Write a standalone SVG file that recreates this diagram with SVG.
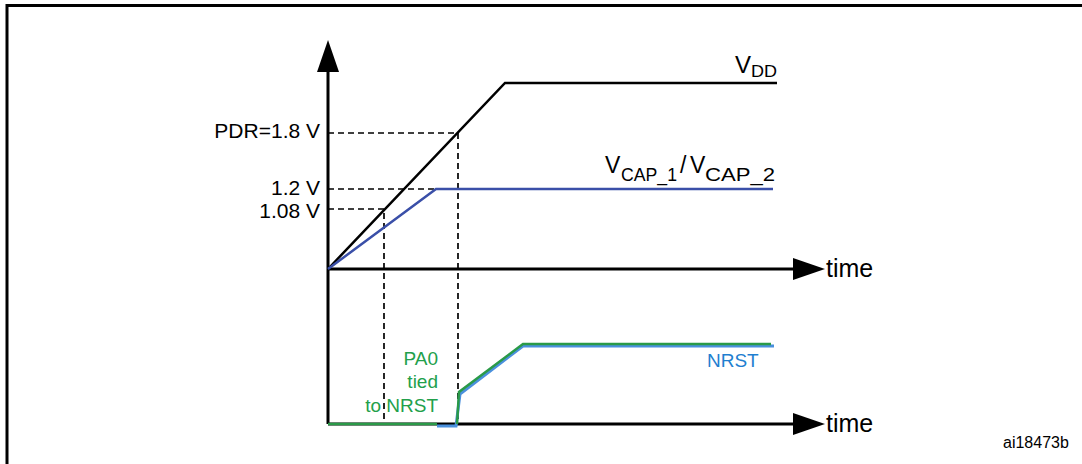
<svg xmlns="http://www.w3.org/2000/svg" width="1082" height="464" viewBox="0 0 1082 464">
<style>
text{font-family:"Liberation Sans",Arial,sans-serif;fill:#000}
.axis{stroke:#000;stroke-width:3;fill:none}
.dash{stroke:#000;stroke-width:1.7;stroke-dasharray:6,4;fill:none}
.lbl{font-size:21px}
.grn{fill:#22a04b}
.blu{fill:#1f7fd0}
</style>
<defs>
<marker id="ah" viewBox="0 0 32 22" refX="0" refY="11" markerWidth="32" markerHeight="22" markerUnits="userSpaceOnUse" orient="auto">
<path d="M0,0 L32,11 L0,22 Z" fill="#000"/>
</marker>
</defs>
<rect width="1082" height="464" fill="#fff"/>
<g id="frame">
<path d="M7,466 V5.5 H1084" fill="none" stroke="#000" stroke-width="3"/>
</g>
<g id="connectors">
<line class="axis" x1="328" y1="424" x2="328" y2="72" marker-end="url(#ah)"/>
<line class="axis" x1="328" y1="269" x2="793" y2="269" marker-end="url(#ah)"/>
<line class="axis" x1="328" y1="424" x2="793" y2="424" marker-end="url(#ah)"/>
<path class="dash" d="M328,133 H458 V424"/>
<path class="dash" d="M328,189 H436"/>
<path class="dash" d="M328,209 H384 V424"/>
</g>
<g id="vdd">
<path d="M328,269 L505,83 H777" fill="none" stroke="#000" stroke-width="2.5"/>
<text x="735" y="73" font-size="24">V<tspan x="751" y="77" font-size="17" textLength="26" lengthAdjust="spacingAndGlyphs">DD</tspan></text>
</g>
<g id="vcap">
<path d="M328,269 L436,189 H773" fill="none" stroke="#3a4fa8" stroke-width="2.5"/>
<text x="605" y="173" font-size="23">V<tspan x="621" y="181" font-size="18" textLength="56" lengthAdjust="spacingAndGlyphs">CAP_1</tspan><tspan x="680" y="173">/</tspan><tspan x="690" y="173">V</tspan><tspan x="705" y="181" font-size="18" textLength="70" lengthAdjust="spacingAndGlyphs">CAP_2</tspan></text>
</g>
<g id="labels">
<text class="lbl" x="320" y="138" text-anchor="end">PDR=1.8 V</text>
<text class="lbl" x="320" y="195" text-anchor="end">1.2 V</text>
<text class="lbl" x="320" y="218" text-anchor="end">1.08 V</text>
<text x="826" y="277" font-size="25">time</text>
<text x="826" y="432" font-size="25">time</text>
</g>
<g id="nrst">
<path d="M437,426 H456 L460,394 L523,346 H774" fill="none" stroke="#4a90dd" stroke-width="3"/>
<path d="M328,424 H437 M457,424 L459,392 L523,344 H771" fill="none" stroke="#2a9a48" stroke-width="2.5"/>
<text class="grn" x="438" y="365" font-size="19" text-anchor="end">PA0</text>
<text class="grn" x="438" y="388" font-size="19" text-anchor="end">tied</text>
<text class="grn" x="438" y="412" font-size="19" text-anchor="end">to NRST</text>
<text class="blu" x="707" y="367" font-size="19">NRST</text>
</g>
<g id="code">
<text x="1003" y="448" font-size="16">ai18473b</text>
</g>
</svg>
